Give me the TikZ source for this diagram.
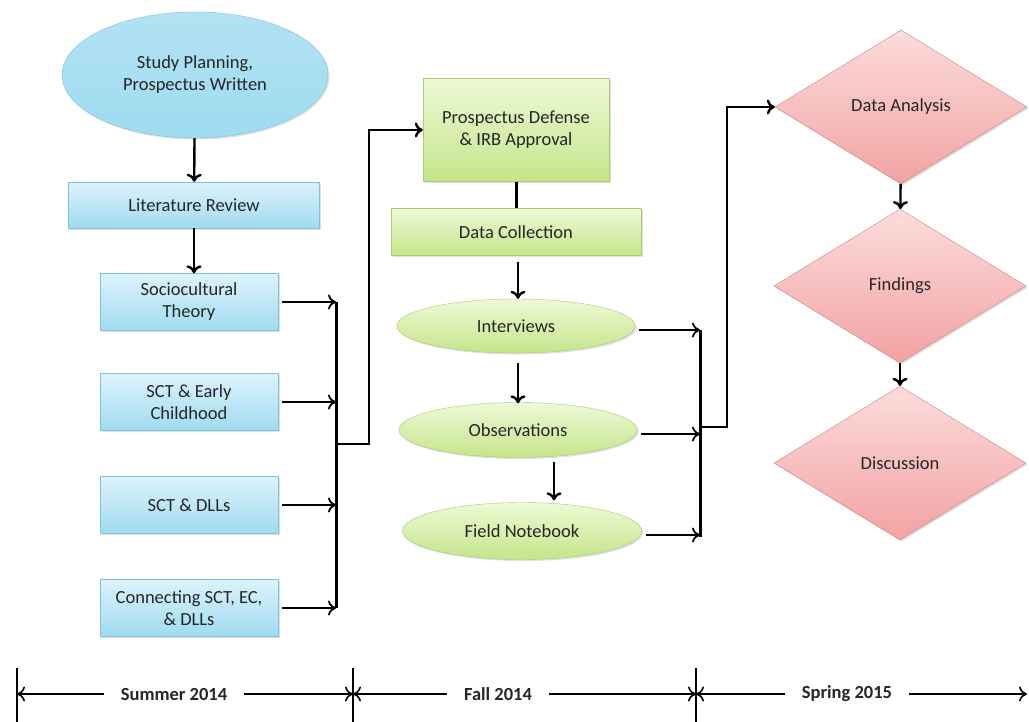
\documentclass[tikz,border=0pt]{standalone}
\usepackage{fontspec}
\setmainfont{Carlito}
\usepackage{tikz}
\usetikzlibrary{arrows,arrows.meta,shapes.geometric,shadows}

\definecolor{bluetop}{HTML}{DDF3FB}
\definecolor{bluebot}{HTML}{9FDBF0}
\definecolor{blueline}{HTML}{7FC3DA}
\definecolor{greentop}{HTML}{EEF9D6}
\definecolor{greenbot}{HTML}{C4E58A}
\definecolor{greenline}{HTML}{A9CB72}
\definecolor{redtop}{HTML}{FCDCDC}
\definecolor{redbot}{HTML}{F3A2A2}
\definecolor{redline}{HTML}{C98585}
\definecolor{inktext}{HTML}{262626}

\tikzset{
  >={To[length=8pt,width=15pt]},
  shape base/.style={align=center, text=inktext, inner sep=0pt,
    font=\fontsize{18.5}{22}\selectfont,
    drop shadow={shadow xshift=1.5pt, shadow yshift=-1.5pt, opacity=0.25}},
  bluebox/.style={shape base, rectangle, draw=blueline, top color=bluetop, bottom color=bluebot},
  bluebubble/.style={shape base, ellipse, draw=blueline, top color=bluebot!80, bottom color=bluebot},
  greenbox/.style={shape base, rectangle, draw=greenline, top color=greentop, bottom color=greenbot},
  greenbubble/.style={shape base, ellipse, draw=greenline, top color=greentop, bottom color=greenbot},
  redgem/.style={shape base, diamond, draw=redline, top color=redtop, bottom color=redbot,
    minimum width=252pt, minimum height=154pt},
  flow/.style={->, black, line width=2.4pt},
  feed/.style={->, black, line width=1.8pt, shorten <=4pt},
  bar/.style={black, line width=3pt},
  season/.style={font=\fontsize{18.5}{22}\selectfont\bfseries, text=inktext, inner xsep=17pt},
  span/.style={->, black, line width=1.6pt},
  tick/.style={black, line width=2.6pt}
}

\begin{document}
\begin{tikzpicture}[x=1pt,y=-1pt]
  \useasboundingbox (0,0) rectangle (1029,721);

  % Summer 2014
  \node[bluebubble, minimum width=266pt, minimum height=126pt] (plan) at (195,75) {Study Planning,\\Prospectus Written};
  \node[bluebox, minimum width=251pt, minimum height=46pt] (litrev) at (194,205) {Literature Review};
  \node[bluebox, minimum width=178pt, minimum height=57pt] (sct) at (189,302) {Sociocultural\\Theory};
  \node[bluebox, minimum width=178pt, minimum height=57pt] (sctec) at (189,402) {SCT \& Early\\Childhood};
  \node[bluebox, minimum width=178pt, minimum height=57pt] (sctdll) at (189,505) {SCT \& DLLs};
  \node[bluebox, minimum width=178pt, minimum height=57pt] (connect) at (189,608) {Connecting SCT, EC,\\\& DLLs};

  % Fall 2014
  \node[greenbox, minimum width=186pt, minimum height=103pt] (defense) at (516,130) {Prospectus Defense\\\& IRB Approval};
  \node[greenbox, minimum width=250pt, minimum height=47pt] (collect) at (516,232) {Data Collection};
  \node[greenbubble, minimum width=238pt, minimum height=54pt] (interv) at (516,326) {Interviews};
  \node[greenbubble, minimum width=238pt, minimum height=55pt] (observ) at (518,430) {Observations};
  \node[greenbubble, minimum width=239pt, minimum height=57pt] (notes) at (522,531) {Field Notebook};

  % Spring 2015
  \node[redgem] (analysis) at (901,107) {Data Analysis};
  \node[redgem] (findings) at (900,286) {Findings};
  \node[redgem] (discuss) at (900,463) {Discussion};

  % arrows inside each column
  \draw[flow] (plan) -- (litrev);
  \draw[flow] (litrev.south) -- (litrev.south |- sct.north);
  \draw[black, line width=3pt] (defense) -- (collect);
  \draw[flow] ([xshift=2pt,yshift=-6pt]collect.south) -- ([xshift=2pt]interv.north);
  \draw[flow] ([xshift=2pt,yshift=-10pt]interv.south) -- ([yshift=-1pt]observ.north);
  \draw[flow] ([xshift=36pt,yshift=-4pt]observ.south) -- ([xshift=36pt,yshift=2pt]observ.south |- notes.north);
  \draw[flow] (analysis) -- (findings);
  \draw[flow] (findings) -- (discuss);

  % left collector
  \coordinate (lbar) at (336,444);
  \draw[bar] (sct.east -| lbar) -- (connect.east -| lbar);
  \foreach \n in {sct,sctec,sctdll,connect}
    \draw[feed] (\n.east) -- (\n.east -| lbar);
  \draw[feed, shorten <=0pt, line width=2.4pt] (lbar) -- ++(33,0) |- (defense.west);

  % right collector
  \coordinate (rbar) at (700,427);
  \draw[bar] ([yshift=-4pt]interv.east -| rbar) -- ([yshift=-6pt]notes.east -| rbar);
  \foreach \n in {interv,observ,notes}
    \draw[feed] ([yshift=-4pt]\n.east) -- ([yshift=-4pt]\n.east -| rbar);
  \draw[feed, shorten <=0pt, line width=2.4pt] (rbar) -- ++(27,0) |- (analysis.west);

  % time line
  \coordinate (t1) at (17,694);
  \coordinate (t2) at (353,694);
  \coordinate (t3) at (696,694);
  \coordinate (t4) at (1027,694);
  \foreach \t in {t1,t2,t3}
    \draw[tick] ([yshift=26pt]\t) -- ([yshift=-30pt]\t);
  \node[season] (summer) at (174,694) {Summer 2014};
  \node[season] (fall) at (498,694) {Fall 2014};
  \node[season] (spring) at (847,694) {Spring 2015};
  \draw[span] (summer.west) -- (t1);
  \draw[span] (summer.east) -- (t2);
  \draw[span] (fall.west) -- (t2);
  \draw[span] (fall.east) -- (t3);
  \draw[span] (spring.west) -- (t3);
  \draw[span] (spring.east) -- (t4);
\end{tikzpicture}
\end{document}
